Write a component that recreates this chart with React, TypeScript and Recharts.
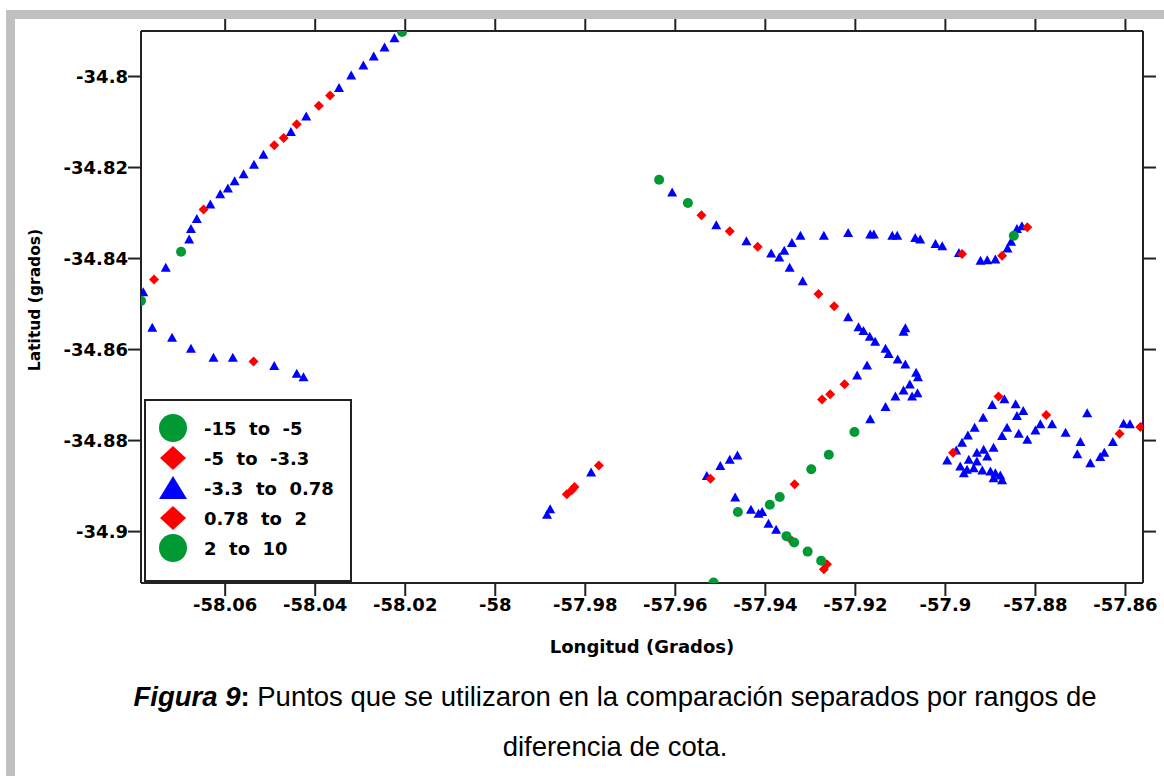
import React from 'react';
import {
  ScatterChart,
  Scatter,
  XAxis,
  YAxis,
  Legend,
  Label,
  ReferenceLine,
} from 'recharts';

// [longitud, latitud] per range of "diferencia de cota"
const rangeNeg15toNeg5: number[][] = [
  [-57.9461, -34.8957], [-57.9353, -34.901], [-57.9336, -34.9024], [-57.9306, -34.9044],
  [-57.9276, -34.9064], [-57.939, -34.8941], [-57.9368, -34.8924], [-57.9298, -34.8863],
  [-57.9259, -34.8831], [-57.9202, -34.8781], [-57.9515, -34.9112],
];

const rangeNeg5toNeg33: number[][] = [
  [-58.0367, -34.8042], [-58.0392, -34.8064], [-58.0441, -34.8105], [-58.047, -34.8135],
  [-58.0491, -34.8151], [-58.0648, -34.8292], [-58.0758, -34.8446], [-58.0537, -34.8626],
  [-57.9841, -34.8918], [-57.983, -34.8909], [-57.9824, -34.8902], [-57.977, -34.8855],
];

const rangeNeg33to078: number[][] = [
  [-58.0224, -34.7916], [-58.0246, -34.7936], [-58.027, -34.7956], [-58.0293, -34.7976],
  [-58.032, -34.7998], [-58.0347, -34.8025], [-58.042, -34.8088], [-58.0454, -34.8122],
  [-58.0515, -34.8172], [-58.0536, -34.8194], [-58.0559, -34.8215], [-58.0579, -34.823],
  [-58.0594, -34.8246], [-58.0611, -34.8259], [-58.0633, -34.8281], [-58.0663, -34.8313],
  [-58.0676, -34.8335], [-58.068, -34.8358], [-58.0732, -34.842], [-58.0782, -34.8474],
  [-58.0762, -34.8552], [-58.0718, -34.8574], [-58.0676, -34.8598], [-58.0626, -34.8618],
  [-58.0583, -34.8618], [-58.0491, -34.8636], [-58.0441, -34.8653], [-58.0426, -34.8661],
  [-57.9607, -34.8255], [-57.9509, -34.8327], [-57.9442, -34.8362], [-57.9387, -34.8389],
  [-57.9369, -34.8398], [-57.9358, -34.8383], [-57.9341, -34.8366], [-57.9322, -34.835],
  [-57.927, -34.835], [-57.9216, -34.8344], [-57.9167, -34.8347], [-57.9159, -34.8347],
  [-57.9118, -34.835], [-57.9107, -34.835], [-57.9067, -34.8355], [-57.9056, -34.8358],
  [-57.9022, -34.8368], [-57.9007, -34.8373], [-57.897, -34.8388], [-57.8922, -34.8405],
  [-57.8907, -34.8404], [-57.8889, -34.8402], [-57.8862, -34.8378], [-57.8854, -34.8363],
  [-57.8841, -34.8335], [-57.883, -34.8329],
  [-57.9346, -34.842], [-57.9317, -34.845], [-57.9216, -34.8529], [-57.9193, -34.8551],
  [-57.9182, -34.8559], [-57.9168, -34.8572], [-57.9156, -34.8583], [-57.9133, -34.8598],
  [-57.9126, -34.861], [-57.9106, -34.8622], [-57.9089, -34.8633], [-57.9089, -34.8553],
  [-57.9093, -34.8561], [-57.9065, -34.8651], [-57.9061, -34.8661], [-57.9079, -34.8677],
  [-57.9093, -34.869], [-57.9111, -34.8703], [-57.9074, -34.8703], [-57.9062, -34.8696],
  [-57.9133, -34.8726], [-57.9167, -34.8753], [-57.9174, -34.8635], [-57.9196, -34.8657],
  [-57.8869, -34.8709], [-57.8844, -34.872], [-57.8827, -34.8735], [-57.8841, -34.8746],
  [-57.8896, -34.8722], [-57.8916, -34.875], [-57.8935, -34.8772], [-57.895, -34.8789],
  [-57.8963, -34.8805], [-57.8976, -34.8822], [-57.8996, -34.8844], [-57.8863, -34.8772],
  [-57.8874, -34.879], [-57.8837, -34.8785], [-57.8818, -34.8798], [-57.88, -34.8778],
  [-57.8789, -34.8764], [-57.8763, -34.8764], [-57.8733, -34.8783], [-57.87, -34.8803],
  [-57.8685, -34.874], [-57.8707, -34.883], [-57.8678, -34.885], [-57.8656, -34.8836],
  [-57.8647, -34.8827], [-57.8628, -34.8803], [-57.8604, -34.8763], [-57.859, -34.8764],
  [-57.8562, -34.8768],
  [-57.8893, -34.8816], [-57.8915, -34.882], [-57.893, -34.8827], [-57.8907, -34.8835],
  [-57.8948, -34.8842], [-57.893, -34.8846], [-57.8967, -34.8857], [-57.8952, -34.8864],
  [-57.8959, -34.8872], [-57.8937, -34.8861], [-57.8918, -34.8866], [-57.89, -34.8868],
  [-57.8889, -34.8872], [-57.8878, -34.8877], [-57.8874, -34.8887], [-57.8893, -34.8883],
  [-57.9885, -34.8963], [-57.9878, -34.8951], [-57.9787, -34.887], [-57.953, -34.8878],
  [-57.95, -34.8856], [-57.9479, -34.8842], [-57.9462, -34.8833], [-57.9467, -34.8925],
  [-57.9432, -34.8952], [-57.9415, -34.8961], [-57.9407, -34.8957], [-57.9393, -34.8983],
  [-57.9376, -34.8996],
];

const range078to2: number[][] = [
  [-57.9542, -34.8305], [-57.9479, -34.834], [-57.9417, -34.8374], [-57.8963, -34.839],
  [-57.8874, -34.8394], [-57.8818, -34.8331], [-57.9282, -34.8478], [-57.9247, -34.8505],
  [-57.9224, -34.8676], [-57.9256, -34.8698], [-57.9274, -34.871], [-57.8882, -34.8703],
  [-57.8983, -34.8827], [-57.8776, -34.8744], [-57.8613, -34.8785], [-57.8567, -34.877],
  [-57.9522, -34.8884], [-57.9341, -34.902], [-57.9263, -34.9072], [-57.927, -34.9083],
  [-57.9335, -34.8896],
];

const range2to10: number[][] = [
  [-58.0207, -34.7902], [-58.0698, -34.8385], [-58.0787, -34.8493], [-57.9636, -34.8227],
  [-57.9572, -34.8278], [-57.8848, -34.835],
];

const legendLabels = ['-15  to  -5', '-5  to  -3.3', '-3.3  to  0.78', '0.78  to  2', '2  to  10'];
const legendShapes = ['circle', 'diamond', 'triangle', 'diamond', 'circle'];

const xTicks = [-58.06, -58.04, -58.02, -58, -57.98, -57.96, -57.94, -57.92, -57.9, -57.88, -57.86];
const yTicks = [-34.8, -34.82, -34.84, -34.86, -34.88, -34.9];
const xDomain = [-58.0787, -57.8561];
const yDomain = [-34.9113, -34.79];

const GREEN = '#009933';
const RED = '#ff0000';
const BLUE = '#0000ff';
const AXIS = '#222222';
const colorOf: Record<string, string> = { circle: GREEN, diamond: RED, triangle: BLUE };

// plot box in pixels (used only to size the outward frame ticks)
const PLOT_W = 1002;
const PLOT_H = 552;
// outward tick length on the top and right edges, expressed in data units
const topTickLen = ((yDomain[1] - yDomain[0]) * 12) / PLOT_H;
const rightTickLen = ((xDomain[1] - xDomain[0]) * 13) / PLOT_W;

const toPts = (arr: number[][]) => arr.map(([lon, lat]) => ({ lon, lat }));
const fmt = (v: number) => String(parseFloat(v.toFixed(2)));

const tickFont = { fontFamily: 'DejaVu Sans', fontWeight: 'bold', fontSize: 18, fill: '#000' };

const Circle = (p: any) => <circle cx={p.cx} cy={p.cy} r={5} fill={GREEN} />;
const Diamond = (p: any) => (
  <polygon
    points={`${p.cx},${p.cy - 5} ${p.cx + 5},${p.cy} ${p.cx},${p.cy + 5} ${p.cx - 5},${p.cy}`}
    fill={RED}
  />
);
const Triangle = (p: any) => (
  <polygon
    points={`${p.cx},${p.cy - 5} ${p.cx + 5},${p.cy + 4} ${p.cx - 5},${p.cy + 4}`}
    fill={BLUE}
  />
);

const LegendIcon = ({ kind }: { kind: string }) => (
  <svg width={30} height={30} style={{ display: 'block' }}>
    {kind === 'circle' && <circle cx={15} cy={15} r={14} fill={colorOf[kind]} />}
    {kind === 'diamond' && <polygon points="15,3 28,15 15,27 2,15" fill={colorOf[kind]} />}
    {kind === 'triangle' && <polygon points="15,3 29,26 1,26" fill={colorOf[kind]} />}
  </svg>
);

const renderLegend = () => (
  <div
    style={{
      position: 'relative',
      boxSizing: 'border-box',
      width: 208,
      height: 183,
      border: `2px solid ${AXIS}`,
      background: '#fff',
    }}
  >
    {legendLabels.map((label, i) => (
      <div
        key={label}
        style={{
          position: 'absolute',
          left: 12,
          top: 12 + i * 30,
          display: 'flex',
          alignItems: 'center',
          height: 30,
        }}
      >
        <LegendIcon kind={legendShapes[i]} />
        <span
          style={{
            marginLeft: 16,
            whiteSpace: 'pre',
            fontFamily: 'DejaVu Sans',
            fontWeight: 'bold',
            fontSize: 18,
            color: '#000',
          }}
        >
          {label}
        </span>
      </div>
    ))}
  </div>
);

export default function App() {
  return (
    <div
      style={{
        position: 'absolute',
        left: 0,
        top: 0,
        width: 1164,
        height: 776,
        background: '#fff',
        overflow: 'hidden',
      }}
    >
      <div
        style={{
          position: 'absolute',
          left: 6,
          top: 10,
          width: 1158,
          height: 766,
          boxSizing: 'border-box',
          borderTop: '9px solid #c0c0c0',
          borderLeft: '9px solid #c0c0c0',
        }}
      />
      <div style={{ position: 'absolute', left: 0, top: 0 }}>
        <ScatterChart
          width={1164}
          height={776}
          margin={{ top: 19, right: 1, bottom: 163, left: 21 }}
        >
          <XAxis
            xAxisId="b"
            type="number"
            dataKey="lon"
            domain={xDomain}
            ticks={xTicks}
            tickFormatter={fmt}
            allowDataOverflow
            height={30}
            tickSize={13}
            tickMargin={2}
            stroke={AXIS}
            strokeWidth={2}
            tick={tickFont}
          >
            <Label
              value="Longitud (Grados)"
              position="bottom"
              offset={27}
              style={{ fontFamily: 'DejaVu Sans', fontWeight: 'bold', fontSize: 18, fill: '#000' }}
            />
          </XAxis>
          <XAxis
            xAxisId="t"
            orientation="top"
            type="number"
            dataKey="lon"
            domain={xDomain}
            allowDataOverflow
            height={12}
            tickLine={false}
            tick={false}
            stroke={AXIS}
            strokeWidth={2}
          />
          <YAxis
            yAxisId="l"
            type="number"
            dataKey="lat"
            domain={yDomain}
            ticks={yTicks}
            tickFormatter={fmt}
            allowDataOverflow
            width={120}
            tickSize={13}
            tickMargin={0}
            stroke={AXIS}
            strokeWidth={2}
            tick={tickFont}
          >
            <Label
              content={() => (
                <text
                  x={35}
                  y={300}
                  transform="rotate(-90 35 300)"
                  textAnchor="middle"
                  dominantBaseline="central"
                  style={{ fontFamily: 'DejaVu Sans', fontWeight: 'bold', fontSize: 15.5, fill: '#000' }}
                >
                  Latitud (grados)
                </text>
              )}
            />
          </YAxis>
          <YAxis
            yAxisId="r"
            orientation="right"
            type="number"
            dataKey="lat"
            domain={yDomain}
            allowDataOverflow
            width={20}
            tickLine={false}
            tick={false}
            stroke={AXIS}
            strokeWidth={2}
          />
          {/* outward tick marks on the top edge, one per longitude tick */}
          {xTicks.map((v) => (
            <ReferenceLine
              key={`tt${v}`}
              xAxisId="b"
              yAxisId="l"
              ifOverflow="visible"
              stroke={AXIS}
              strokeWidth={2}
              segment={[
                { x: v, y: yDomain[1] },
                { x: v, y: yDomain[1] + topTickLen },
              ]}
            />
          ))}
          {/* outward tick marks on the right edge, one per latitude tick */}
          {yTicks.map((v) => (
            <ReferenceLine
              key={`rt${v}`}
              xAxisId="b"
              yAxisId="l"
              ifOverflow="visible"
              stroke={AXIS}
              strokeWidth={2}
              segment={[
                { x: xDomain[1], y: v },
                { x: xDomain[1] + rightTickLen, y: v },
              ]}
            />
          ))}
          <Legend
            content={renderLegend}
            layout="vertical"
            align="center"
            verticalAlign="middle"
            wrapperStyle={{ left: 144, top: 399, width: 208, height: 183 }}
          />
          <Scatter
            name="-3.3 to 0.78"
            data={toPts(rangeNeg33to078)}
            xAxisId="b"
            yAxisId="l"
            shape={Triangle}
            isAnimationActive={false}
          />
          <Scatter
            name="-5 to -3.3"
            data={toPts(rangeNeg5toNeg33)}
            xAxisId="b"
            yAxisId="l"
            shape={Diamond}
            isAnimationActive={false}
          />
          <Scatter
            name="0.78 to 2"
            data={toPts(range078to2)}
            xAxisId="b"
            yAxisId="l"
            shape={Diamond}
            isAnimationActive={false}
          />
          <Scatter
            name="-15 to -5"
            data={toPts(rangeNeg15toNeg5)}
            xAxisId="b"
            yAxisId="l"
            shape={Circle}
            isAnimationActive={false}
          />
          <Scatter
            name="2 to 10"
            data={toPts(range2to10)}
            xAxisId="b"
            yAxisId="l"
            shape={Circle}
            isAnimationActive={false}
          />
        </ScatterChart>
      </div>
      <div
        style={{
          position: 'absolute',
          left: 65,
          top: 672,
          width: 1100,
          textAlign: 'center',
          fontFamily: '"Liberation Sans", Arial, sans-serif',
          fontSize: 27.5,
          lineHeight: '50px',
          color: '#000',
        }}
      >
        <b>
          <i>Figura 9</i>:
        </b>{' '}
        Puntos que se utilizaron en la comparación separados por rangos de
        <br />
        diferencia de cota.
      </div>
    </div>
  );
}
